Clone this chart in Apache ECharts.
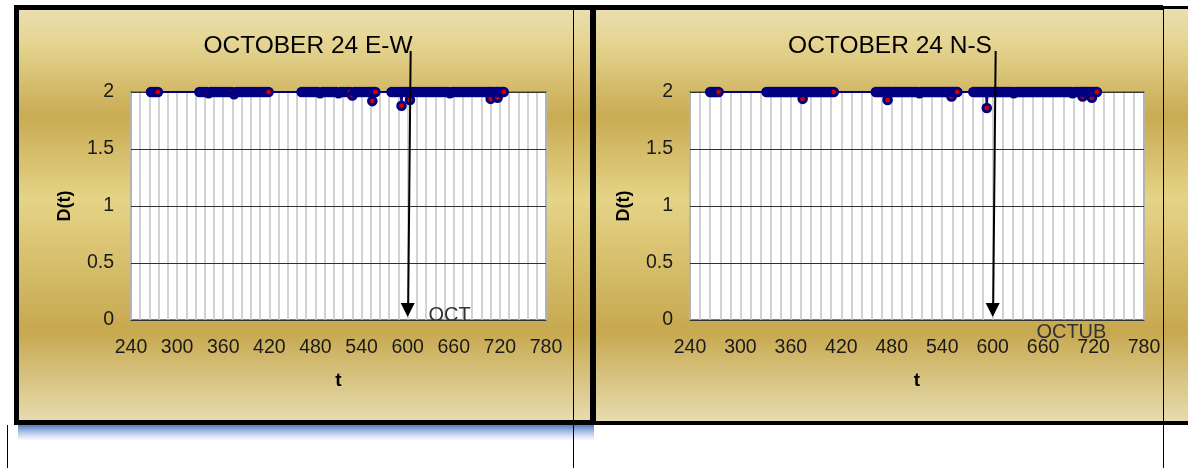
<!DOCTYPE html>
<html><head><meta charset="utf-8">
<script src="https://cdn.jsdelivr.net/npm/echarts@6/dist/echarts.min.js"></script>
<style>html,body{margin:0;padding:0;background:#fff}#c{width:1188px;height:468px}</style>
</head><body><div id="c"></div>
<script>
// ---- data ----
const titles = ['OCTOBER 24 E-W', 'OCTOBER 24 N-S'];
const notes = ['OCT', 'OCTUB'];
const xMin = 240, xMax = 780, xStep = 60;
const yMin = 0, yMax = 2, yStep = 0.5;
const arrowT = 600;

// E-W  [t, D(t)]
const ewPoints = [
 [266,2],[269,2],[272,2],[275,2],
 [329,2],[332,2],[335,2],[338,2],[341,1.99],[344,2],[347,2],[350,2],[353,2],[356,2],[359,2],[362,2],[365,2],[368,2],[371,2],[374,1.98],[377,2],[380,2],[383,2],[386,2],[389,2],[392,2],[395,2],[398,2],[401,2],[404,2],[407,2],[410,2],[413,2],[416,2],[419,2],
 [462,2],[465,2],[468,2],[471,2],[474,2],[477,2],[480,2],[483,2],[486,1.99],[489,2],[492,2],[495,2],[498,2],[501,2],[504,2],[507,2],[510,1.99],[513,2],[516,2],[519,2],[522,2],[525,2],[528,1.97],[531,2],[534,2],[537,2],[540,2],[543,2],[546,2],[549,2],[552,2],[553,2],[554,1.92],[555,2],[558,2],
 [579,2],[582,2],[585,2],[588,2],[591,2],[592,1.88],[593,2],[596,2],[599,2],[602,2],[603,1.93],[604,2],[607,2],[610,2],[613,2],[616,2],[619,2],[622,2],[625,2],[628,2],[631,2],[634,2],[637,2],[640,2],[643,2],[646,2],[649,2],[652,2],[655,1.99],[658,2],[661,2],[664,2],[667,2],[670,2],[673,2],[676,2],[679,2],[682,2],[685,2],[688,2],[691,2],[694,2],[697,2],[700,2],[703,2],[706,2],[707,2],[708,1.94],[709,2],[712,2],[715,2],[716,2],[717,1.95],[718,2],[721,2],[724,2],[725,2]
];

// N-S  [t, D(t)]
const nsPoints = [
 [264,2],[266,2],[268,2],[270,2],[272,2],[274,2],
 [331,2],[333,2],[335,2],[337,2],[339,2],[341,2],[343,2],[345,2],[347,2],[349,2],[351,2],[353,2],[355,2],[357,2],[359,2],[361,2],[363,2],[365,2],[367,2],[369,2],[371,2],[373,2],[374,1.94],[375,2],[377,2],[379,2],[381,2],[383,2],[385,2],[387,2],[389,2],[391,2],[393,2],[395,2],[397,2],[399,2],[401,2],[403,2],[405,2],[407,2],[409,2],[411,2],
 [461,2],[463,2],[465,2],[467,2],[469,2],[471,2],[473,2],[474,2],[475,1.93],[476,2],[477,2],[479,2],[481,2],[483,2],[485,2],[487,2],[489,2],[491,2],[493,2],[495,2],[497,2],[499,2],[501,2],[503,2],[505,2],[507,2],[509,2],[511,2],[513,1.99],[515,2],[517,2],[519,2],[521,2],[523,2],[525,2],[527,2],[529,2],[531,2],[533,2],[535,2],[537,2],[539,2],[541,2],[543,2],[545,2],[547,2],[549,2],[550,2],[551,1.96],[552,2],[553,2],[555,2],[557,2],[558,2],
 [577,2],[579,2],[581,2],[583,2],[585,2],[587,2],[589,2],[591,2],[592,2],[593,1.86],[594,2],[595,2],[597,2],[599,2],[601,2],[603,2],[605,2],[607,2],[609,2],[611,2],[613,2],[615,2],[617,2],[619,2],[621,2],[623,2],[625,1.99],[627,2],[629,2],[631,2],[633,2],[635,2],[637,2],[639,2],[641,2],[643,2],[645,2],[647,2],[649,2],[651,2],[653,2],[655,2],[657,2],[659,2],[661,2],[663,2],[665,2],[667,2],[669,2],[671,2],[673,2],[675,2],[677,2],[679,2],[681,2],[683,2],[685,2],[687,2],[689,2],[691,2],[693,2],[695,1.99],[697,2],[699,2],[701,2],[703,2],[705,2],[706,2],[707,1.96],[708,2],[709,2],[711,2],[713,2],[715,2],[717,2],[718,1.95],[719,2],[721,2],[723,2],[724,2]
];

// ---- chart ----
const FONT = 'Liberation Sans';
const chart = echarts.init(document.getElementById('c'), null, {renderer: 'canvas'});

function renderMarker(params, api) {
  const p = api.coord([api.value(0), api.value(1)]);
  return {
    type: 'group',
    children: [
      {type: 'circle', shape: {cx: p[0], cy: p[1], r: 5.3}, style: {fill: '#000080'}},
      {type: 'circle', shape: {cx: p[0], cy: p[1], r: 2.4}, style: {fill: '#d00000'}}
    ]
  };
}

function xAxisFor(i) {
  return {
    type: 'value', gridIndex: i, min: xMin, max: xMax, interval: xStep, z: 1,
    axisLine: {show: false}, axisTick: {show: false},
    axisLabel: {fontSize: 19.5, color: '#1a1a1a', margin: 18, fontFamily: FONT},
    splitLine: {show: true, lineStyle: {color: '#c4c4c4', width: 1.5}},
    minorTick: {show: false, splitNumber: 5},
    minorSplitLine: {show: true, lineStyle: {color: '#c4c4c4', width: 1.5}},
    name: 't', nameLocation: 'middle', nameGap: 51,
    nameTextStyle: {fontWeight: 'bold', fontSize: 19, color: '#000', fontFamily: FONT}
  };
}
function yAxisFor(i) {
  return {
    type: 'value', gridIndex: i, min: yMin, max: yMax, interval: yStep, z: 2,
    axisLine: {show: false}, axisTick: {show: false},
    axisLabel: {fontSize: 19.5, color: '#1a1a1a', margin: 17, fontFamily: FONT},
    splitLine: {show: true, lineStyle: {color: '#333', width: 1.2}},
    name: 'D(t)', nameLocation: 'middle', nameGap: 57, nameRotate: 90,
    nameTextStyle: {fontWeight: 'bold', fontSize: 18, color: '#000', fontFamily: FONT}
  };
}

const gold = {
  type: 'linear', x: 0, y: 0, x2: 0, y2: 1,
  colorStops: [
    {offset: 0, color: '#e9dfb0'},
    {offset: 0.08, color: '#e5d592'},
    {offset: 0.26, color: '#c9ab52'},
    {offset: 0.46, color: '#e5d487'},
    {offset: 0.78, color: '#c7a84f'},
    {offset: 1, color: '#e7ddb0'}
  ]
};
const shadow = {
  type: 'linear', x: 0, y: 0, x2: 0, y2: 1,
  colorStops: [
    {offset: 0, color: 'rgba(60,105,185,0.95)'},
    {offset: 1, color: 'rgba(120,160,220,0)'}
  ]
};

const grids = [
  {left: 131, top: 92, width: 415, height: 228},
  {left: 690, top: 92, width: 454, height: 228}
];

const option = {
  animation: false,
  backgroundColor: '#fff',
  title: [
    {text: titles[0], left: 303, top: 29, textAlign: 'center',
     textStyle: {fontSize: 24.5, fontWeight: 'normal', color: '#000', fontFamily: FONT}},
    {text: titles[1], left: 885, top: 29, textAlign: 'center',
     textStyle: {fontSize: 24.5, fontWeight: 'normal', color: '#000', fontFamily: FONT}}
  ],
  grid: grids.map(g => Object.assign({show: true, backgroundColor: '#fff', borderColor: '#7f7f7f', borderWidth: 2}, g)),
  xAxis: [xAxisFor(0), xAxisFor(1)],
  yAxis: [yAxisFor(0), yAxisFor(1)],
  series: [
    {type: 'line', xAxisIndex: 0, yAxisIndex: 0, data: ewPoints, symbol: 'none', clip: false, z: 3,
     lineStyle: {color: '#000080', width: 2}},
    {type: 'custom', xAxisIndex: 0, yAxisIndex: 0, data: ewPoints, renderItem: renderMarker, clip: false, z: 4},
    {type: 'line', xAxisIndex: 1, yAxisIndex: 1, data: nsPoints, symbol: 'none', clip: false, z: 3,
     lineStyle: {color: '#000080', width: 2}},
    {type: 'custom', xAxisIndex: 1, yAxisIndex: 1, data: nsPoints, renderItem: renderMarker, clip: false, z: 4}
  ],
  graphic: [
    {type: 'rect', z: -10, shape: {x: 18, y: 9, width: 574, height: 413}, style: {fill: gold}},
    {type: 'rect', z: -10, shape: {x: 594, y: 9, width: 594, height: 413}, style: {fill: gold}},
    {type: 'rect', z: -9, shape: {x: 18, y: 424, width: 576, height: 17}, style: {fill: shadow}},
    {type: 'rect', z: -8, shape: {x: 14, y: 5, width: 1149, height: 5}, style: {fill: '#000'}},
    {type: 'rect', z: -8, shape: {x: 1163, y: 6, width: 25, height: 3}, style: {fill: '#000'}},
    {type: 'rect', z: -8, shape: {x: 14, y: 5, width: 5, height: 420}, style: {fill: '#000'}},
    {type: 'rect', z: -8, shape: {x: 590, y: 9, width: 6, height: 416}, style: {fill: '#000'}},
    {type: 'rect', z: -8, shape: {x: 14, y: 420, width: 580, height: 5}, style: {fill: '#000'}},
    {type: 'rect', z: -8, shape: {x: 594, y: 421, width: 594, height: 4}, style: {fill: '#000'}},
    {type: 'line', z: -8, shape: {x1: 573.5, y1: 10, x2: 573.5, y2: 468}, style: {stroke: '#000', lineWidth: 1}},
    {type: 'line', z: -8, shape: {x1: 1163.5, y1: 9, x2: 1163.5, y2: 468}, style: {stroke: '#000', lineWidth: 1}},
    {type: 'line', z: -8, shape: {x1: 7.5, y1: 425, x2: 7.5, y2: 468}, style: {stroke: '#000', lineWidth: 1}}
  ]
};
chart.setOption(option);

// annotations placed through the axes' scales
const extra = [];
[0, 1].forEach(i => {
  const p = chart.convertToPixel({gridIndex: i}, [arrowT, yMin]);
  const x = p[0], y = p[1];
  extra.push({type: 'line', z: 20, shape: {x1: x + 3, y1: 51, x2: x + 0.5, y2: y - 14},
              style: {stroke: '#000', lineWidth: 2}});
  extra.push({type: 'polygon', z: 20, shape: {points: [[x - 7, y - 17], [x + 7, y - 17], [x, y - 3]]},
              style: {fill: '#000'}});
});
const n0 = chart.convertToPixel({gridIndex: 0}, [627, yMin]);
const n1 = chart.convertToPixel({gridIndex: 1}, [652, yMin]);
extra.push({type: 'text', z: 21, x: n0[0], y: n0[1] - 5,
  style: {text: notes[0], fontSize: 20, fontFamily: FONT, fill: '#333', verticalAlign: 'middle', align: 'left'}});
extra.push({type: 'text', z: 21, x: n1[0], y: n1[1] + 12,
  style: {text: notes[1], fontSize: 20, fontFamily: FONT, fill: '#333', verticalAlign: 'middle', align: 'left'}});
chart.setOption({graphic: option.graphic.concat(extra)});
</script></body></html>
